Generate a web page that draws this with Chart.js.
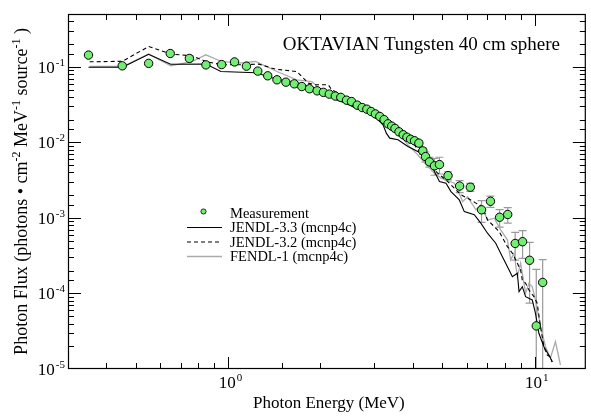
<!DOCTYPE html>
<html>
<head>
<meta charset="utf-8">
<script src="https://cdn.jsdelivr.net/npm/chart.js@4.4.0/dist/chart.umd.min.js"></script>
<style>
  body { margin: 0; background: #fff; }
</style>
</head>
<body>
<canvas id="graficoFlujo" width="591" height="417"></canvas>
<script>
// Medicion OKTAVIAN (energia MeV, flujo, error relativo)
const measE = [0.350,0.451,0.550,0.647,0.747,0.846,0.952,1.049,1.147,1.249,1.346,1.443,1.543,1.643,1.739,1.842,1.951,2.045,2.138,2.237,2.331,2.434,2.527,2.637,2.737,2.835,2.928,3.024,3.125,3.227,3.325,3.418,3.503,3.610,3.727,3.832,3.939,4.058,4.192,4.319,4.407,4.541,4.714,4.893,5.219,5.695,6.171,6.714,7.180,7.692,8.174,8.645,9.141,9.634,10.13,10.63];
const measF = [0.143,0.103,0.111,0.150,0.129,0.106,0.107,0.116,0.102,0.0877,0.0760,0.0673,0.0626,0.0595,0.0548,0.0512,0.0481,0.0459,0.0435,0.0410,0.0394,0.0362,0.0347,0.0311,0.0289,0.0275,0.0256,0.0238,0.0220,0.0200,0.0176,0.0164,0.0153,0.0138,0.0126,0.0117,0.0110,0.0105,0.00976,0.00771,0.00648,0.00552,0.00489,0.00508,0.00363,0.00264,0.00255,0.00128,0.00166,0.00102,0.00111,0.000459,0.000484,0.000275,0.0000372,0.000140];
const measErr = [0,0,0,0,0,0,0,0,0,0,0,0,0,0,0,0,0,0,0,0,0,0,0,0,0,0,0,0,0,0,0,0,0,0,0,0,0,0.05,0.08,0.10,0.15,0.15,0.25,0.25,0.12,0.18,0.12,0.32,0.17,0.26,0.23,0.40,0.40,0.73,4.6,1.0];

// calculos mcnp4c
const j33E = [0.350,0.452,0.550,0.649,0.845,0.947,1.230,1.439,1.671,2.019,2.233,2.406,2.657,2.862,3.086,3.203,3.282,3.368,3.583,3.861,4.265,4.596,4.893,5.140,5.337,5.681,5.898,6.357,6.678,7.022,7.470,7.855,8.259,8.466,8.787,8.900,9.122,9.350,9.829,10.07,10.33,10.73,11.27,11.42];
const j33F = [0.0985,0.0985,0.1464,0.108,0.1086,0.0866,0.0833,0.0683,0.0614,0.0485,0.0373,0.0331,0.0275,0.0248,0.0199,0.0171,0.01324,0.01137,0.01080,0.00880,0.00719,0.00504,0.00303,0.00288,0.00223,0.00173,0.00121,0.00110,0.000851,0.000627,0.000462,0.000307,0.000205,0.000167,0.000185,0.000106,0.000123,0.0000907,0.0000820,0.0000547,0.0000297,0.0000197,0.0000140,0.0000124];

const j32E = [0.353,0.452,0.550,0.650,0.764,0.845,0.952,1.083,1.258,1.425,1.675,1.828,1.922,2.123,2.177,2.345,2.657,3.244,3.583,3.767,4.06,4.484,4.832,5.207,5.473,5.751,6.046,6.434,6.765,7.022,7.383,7.663,8.154,8.466,8.787,9.006,9.12,9.350,9.590,9.954,10.20,10.46,10.73,11.00,11.27,11.42];
const j32F = [0.1165,0.1183,0.1857,0.1473,0.1398,0.1176,0.1063,0.1063,0.1086,0.0932,0.0866,0.0608,0.0578,0.0578,0.0496,0.0426,0.0331,0.0199,0.0162,0.01324,0.0092,0.0053,0.00391,0.00303,0.00247,0.00202,0.00182,0.00157,0.00140,0.000942,0.000768,0.000659,0.000417,0.000341,0.000251,0.000205,0.000151,0.000136,0.000111,0.0000907,0.0000741,0.0000363,0.0000197,0.0000153,0.0000145,0.0000124];

const fenE = [0.353,0.453,0.550,0.650,0.764,0.845,0.952,1.083,1.228,1.443,1.675,1.874,2.072,2.406,2.793,3.162,3.409,3.673,3.861,4.161,4.374,4.714,4.952,5.473,5.681,5.825,6.046,6.434,6.678,7.022,7.383,7.755,8.154,8.358,8.572,8.787,9.006,9.350,9.590,9.829,10.07,10.46,10.86,11.27,11.70,12.15];
const fenF = [0.1009,0.1009,0.1473,0.1031,0.1176,0.1442,0.1176,0.1119,0.1176,0.0866,0.0673,0.0639,0.0448,0.0347,0.0269,0.0199,0.01464,0.01193,0.00927,0.00683,0.0053,0.00391,0.00336,0.00288,0.00212,0.00164,0.00191,0.00128,0.00149,0.000942,0.000991,0.000693,0.000512,0.000278,0.000341,0.000167,0.000251,0.000101,0.000136,0.000122,0.0000820,0.0000363,0.0000197,0.0000140,0.0000230,0.0000113];

// ejes
const xRango = [0.3, 14.7];
const yRango = [1e-5, 0.5];
const xExpEtiquetas = [0, 1];
const yExpEtiquetas = [-5, -4, -3, -2, -1];
const titulo = 'OKTAVIAN Tungsten 40 cm sphere';

const fuente = '"Liberation Serif", "Times New Roman", serif';

function pares(xs, ys) {
  return xs.map((x, i) => ({ x: x, y: ys[i] }));
}

// "10" con exponente
function potencia(ctx, exp, x, y, size, align) {
  ctx.font = size + 'px ' + fuente;
  const wb = ctx.measureText('10').width;
  const se = Math.round(size * 0.66);
  ctx.font = se + 'px ' + fuente;
  const we = ctx.measureText(String(exp)).width;
  let x0 = x;
  if (align === 'right') x0 = x - wb - we - 1;
  if (align === 'center') x0 = x - wb / 2;
  ctx.textAlign = 'left';
  ctx.textBaseline = 'alphabetic';
  ctx.font = size + 'px ' + fuente;
  ctx.fillText('10', x0, y);
  ctx.font = se + 'px ' + fuente;
  ctx.fillText(String(exp), x0 + wb + 1, y - size * 0.42);
}

// texto con superindices
function textoCompuesto(ctx, partes, size) {
  const se = Math.round(size * 0.66);
  let total = 0;
  partes.forEach(p => {
    ctx.font = (p.sup ? se : size) + 'px ' + fuente;
    p.w = ctx.measureText(p.t).width;
    total += p.w;
  });
  return { total: total, se: se };
}

const errorBars = {
  id: 'errorBars',
  beforeDatasetsDraw(chart) {
    const ctx = chart.ctx;
    const xs = chart.scales.x, ys = chart.scales.y;
    const area = chart.chartArea;
    ctx.save();
    ctx.strokeStyle = '#9a9a9a';
    ctx.lineWidth = 1.2;
    measE.forEach((e, i) => {
      const r = measErr[i];
      if (!r) return;
      const px = xs.getPixelForValue(e);
      const hi = measF[i] * (1 + r);
      const loVal = measF[i] * (1 - r);
      const pHi = ys.getPixelForValue(hi);
      const pLo = loVal > yRango[0] ? ys.getPixelForValue(loVal) : area.bottom;
      ctx.beginPath();
      ctx.moveTo(px, pHi); ctx.lineTo(px, pLo);
      ctx.moveTo(px - 4, pHi); ctx.lineTo(px + 4, pHi);
      if (loVal > yRango[0]) { ctx.moveTo(px - 4, pLo); ctx.lineTo(px + 4, pLo); }
      ctx.stroke();
    });
    ctx.restore();
  }
};

const marco = {
  id: 'marco',
  afterDraw(chart) {
    const ctx = chart.ctx;
    const a = chart.chartArea;
    const xs = chart.scales.x, ys = chart.scales.y;
    ctx.save();
    ctx.strokeStyle = '#000';
    ctx.lineWidth = 1.2;
    ctx.strokeRect(a.left + 0.5, a.top + 0.5, a.right - a.left - 1, a.bottom - a.top - 1);

    // marcas hacia dentro
    ctx.lineWidth = 1;
    ctx.beginPath();
    xs.ticks.forEach(t => {
      const p = Math.round(xs.getPixelForValue(t.value)) + 0.5;
      if (p <= a.left + 1 || p >= a.right - 1) return;
      const mayor = Math.abs(Math.log10(t.value) - Math.round(Math.log10(t.value))) < 1e-9;
      const L = mayor ? 12 : 6;
      ctx.moveTo(p, a.bottom); ctx.lineTo(p, a.bottom - L);
      ctx.moveTo(p, a.top); ctx.lineTo(p, a.top + L);
    });
    ys.ticks.forEach(t => {
      const p = Math.round(ys.getPixelForValue(t.value)) + 0.5;
      if (p <= a.top + 1 || p >= a.bottom - 1) return;
      const mayor = Math.abs(Math.log10(t.value) - Math.round(Math.log10(t.value))) < 1e-9;
      const L = mayor ? 13 : 6;
      ctx.moveTo(a.left, p); ctx.lineTo(a.left + L, p);
      ctx.moveTo(a.right, p); ctx.lineTo(a.right - L, p);
    });
    ctx.stroke();

    // etiquetas
    ctx.fillStyle = '#000';
    xExpEtiquetas.forEach(e => {
      const p = xs.getPixelForValue(Math.pow(10, e));
      potencia(ctx, e, p - 1, a.bottom + 19, 17, 'center');
    });
    yExpEtiquetas.forEach(e => {
      const p = ys.getPixelForValue(Math.pow(10, e));
      potencia(ctx, e, a.left - 3, p + 6, 17, 'right');
    });

    // titulo de eje x
    ctx.font = '17px ' + fuente;
    ctx.textAlign = 'center';
    ctx.textBaseline = 'alphabetic';
    ctx.fillText('Photon Energy (MeV)', (a.left + a.right) / 2 + 2, 408);

    // titulo de eje y (girado)
    const partes = [
      { t: 'Photon Flux (photons \u2022 cm' }, { t: '-2', sup: true },
      { t: ' MeV' }, { t: '-1', sup: true },
      { t: ' source' }, { t: '-1', sup: true }, { t: ' )' }
    ];
    const m = textoCompuesto(ctx, partes, 18);
    ctx.save();
    ctx.translate(27, (a.top + a.bottom) / 2);
    ctx.rotate(-Math.PI / 2);
    let cx = -m.total / 2;
    ctx.textAlign = 'left';
    partes.forEach(p => {
      ctx.font = (p.sup ? m.se : 18) + 'px ' + fuente;
      ctx.fillText(p.t, cx, p.sup ? -7.5 : 0);
      cx += p.w;
    });
    ctx.restore();

    // titulo interior
    ctx.font = '19px ' + fuente;
    ctx.textAlign = 'right';
    ctx.fillText(titulo, 560, 50);

    // leyenda
    const ds = chart.data.datasets;
    const lx = 187, ly = [217.5, 232, 246.5, 261];
    ctx.font = '14.5px ' + fuente;
    ctx.textAlign = 'left';
    ds.forEach((d, i) => {
      const yb = ly[i];
      if (i === 0) {
        ctx.beginPath();
        ctx.arc(203.5, yb - 6, 2.6, 0, Math.PI * 2);
        ctx.fillStyle = d.pointBackgroundColor;
        ctx.fill();
        ctx.strokeStyle = '#000';
        ctx.lineWidth = 0.8;
        ctx.stroke();
      } else {
        ctx.beginPath();
        ctx.strokeStyle = d.borderColor;
        ctx.lineWidth = d.borderWidth;
        ctx.setLineDash(d.borderDash || []);
        ctx.moveTo(lx, yb - 4.5); ctx.lineTo(lx + 35, yb - 4.5);
        ctx.stroke();
        ctx.setLineDash([]);
      }
      ctx.fillStyle = '#000';
      ctx.fillText(d.label, 230, yb);
    });
    ctx.restore();
  }
};

const ctx = document.getElementById('graficoFlujo').getContext('2d');
const grafico = new Chart(ctx, {
  type: 'scatter',
  data: {
    datasets: [
      {
        label: 'Measurement',
        data: pares(measE, measF),
        showLine: false,
        pointRadius: 4.2,
        pointBackgroundColor: '#72ee72',
        pointBorderColor: '#000',
        pointBorderWidth: 1
      },
      {
        label: 'JENDL-3.3 (mcnp4c)',
        data: pares(j33E, j33F),
        showLine: true,
        pointRadius: 0,
        borderColor: '#000',
        borderWidth: 1.1
      },
      {
        label: 'JENDL-3.2 (mcnp4c)',
        data: pares(j32E, j32F),
        showLine: true,
        pointRadius: 0,
        borderColor: '#000',
        borderWidth: 1.1,
        borderDash: [4, 3]
      },
      {
        label: 'FENDL-1 (mcnp4c)',
        data: pares(fenE, fenF),
        showLine: true,
        pointRadius: 0,
        borderColor: '#ababab',
        borderWidth: 1.3
      }
    ]
  },
  options: {
    responsive: false,
    animation: false,
    layout: { padding: { top: 14, right: 2, left: 0, bottom: 0 } },
    plugins: {
      legend: { display: false },
      tooltip: { enabled: false }
    },
    scales: {
      x: {
        type: 'logarithmic',
        min: xRango[0],
        max: xRango[1],
        grid: { display: false },
        border: { display: false },
        ticks: { display: false },
        afterFit: s => { s.height = 48; }
      },
      y: {
        type: 'logarithmic',
        min: yRango[0],
        max: yRango[1],
        grid: { display: false },
        border: { display: false },
        ticks: { display: false },
        afterFit: s => { s.width = 68; }
      }
    }
  },
  plugins: [errorBars, marco]
});
</script>
</body>
</html>
